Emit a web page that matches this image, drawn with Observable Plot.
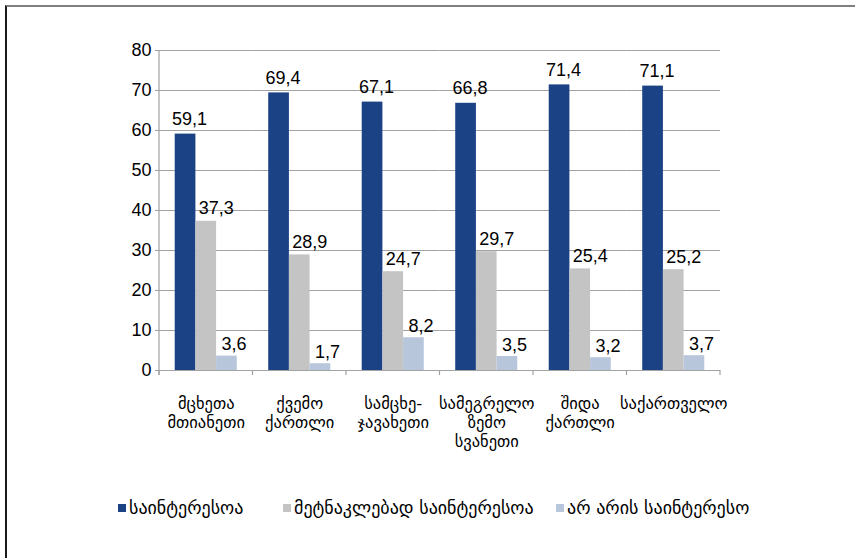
<!DOCTYPE html>
<html>
<head>
<meta charset="utf-8">
<script src="https://cdn.jsdelivr.net/npm/d3@7"></script>
<script src="https://cdn.jsdelivr.net/npm/@observablehq/plot@0.6"></script>
<style>
  html, body { margin: 0; padding: 0; background: #fff; }
  #wrap { position: relative; width: 855px; height: 558px; overflow: hidden; background: #fff;
          font-family: "Liberation Sans", "DejaVu Sans", Arial, sans-serif; }
  #frame { position: absolute; left: 5px; top: 5px; right: -5px; bottom: -5px;
           border-top: 2px solid #7f7f7f; border-left: 2px solid #1a1a1a; z-index: 2; pointer-events: none; }
  #chart { position: absolute; left: 0; top: 0; }
  .leg { position: absolute; top: 497px; display: flex; align-items: center; font-size: 18px; color: #000;
         font-family: "DejaVu Sans", sans-serif; white-space: nowrap; }
  .sw { width: 8px; height: 8px; margin-right: 3px; display: inline-block; }
</style>
</head>
<body>
<div id="wrap">
  <div id="frame"></div>
  <div id="chart"></div>
  <div id="legend"></div>
</div>
<script>
const categories = ["მცხეთა\nმთიანეთი", "ქვემო\nქართლი", "სამცხე-\nჯავახეთი", "სამეგრელო\nზემო\nსვანეთი", "შიდა\nქართლი", "საქართველო"];
const series = ["საინტერესოა", "მეტნაკლებად საინტერესოა", "არ არის საინტერესო"];
const interesting = [59.1, 69.4, 67.1, 66.8, 71.4, 71.1];
const somewhat = [37.3, 28.9, 24.7, 29.7, 25.4, 25.2];
const notInteresting = [3.6, 1.7, 8.2, 3.5, 3.2, 3.7];
const yTicks = [0, 10, 20, 30, 40, 50, 60, 70, 80];
const colors = ["#1b4285", "#c4c4c4", "#b8c6dc"];

const valuesBySeries = [interesting, somewhat, notInteresting];
const data = [];
categories.forEach((c, i) => {
  series.forEach((s, j) => data.push({cat: c, series: s, value: valuesBySeries[j][i]}));
});
const fmt = v => v.toFixed(1).replace(".", ",");
const labelDx = [4, 10, 7];
const labelDy = [-9, -7, -6];

const plot = Plot.plot({
  width: 855,
  height: 470,
  marginLeft: 159,
  marginRight: 135,
  marginTop: 50,
  marginBottom: 100,
  style: {background: "transparent", fontFamily: "'Liberation Sans', 'DejaVu Sans', Arial, sans-serif", color: "#000"},
  fx: {domain: categories, padding: 0, label: null, round: false},
  x: {domain: series, axis: null, paddingInner: 0, paddingOuter: 0.76, round: false},
  y: {domain: [0, 80], label: null},
  color: {domain: series, range: colors},
  marks: [
    Plot.gridY(yTicks, {stroke: "#a2a2a2", strokeOpacity: 1, strokeWidth: 1.2}),
    Plot.axisY(yTicks, {tickSize: 4, tickPadding: 4, fontSize: 18, label: null, stroke: "#a2a2a2", fill: "#000", tickFormat: d => String(d)}),
    Plot.barY(data, {fx: "cat", x: "series", y: "value", fill: "series"}),
    Plot.ruleY([0], {stroke: "#a2a2a2", strokeWidth: 1.2}),
    ...series.map((s, j) => Plot.text(data.filter(d => d.series === s), {
      fx: "cat", x: "series", y: "value", text: d => fmt(d.value),
      lineAnchor: "bottom", dy: labelDy[j], dx: labelDx[j], fontSize: 18, fill: "#000"
    })),
    Plot.axisFx({anchor: "bottom", tickSize: 0, tickPadding: 25, fontSize: 16.5, lineHeight: 1.15, label: null,
      fontFamily: "'DejaVu Sans', sans-serif", fill: "#000"})
  ]
});
document.getElementById("chart").appendChild(plot);

// axis line and band-boundary ticks, from Plot's own scales
const fx = plot.scale("fx");
const ys = plot.scale("y");
const svg = d3.select(plot);
const y0 = ys.apply(0), yTop = ys.apply(80);
const bounds = categories.map(c => fx.apply(c));
bounds.push(fx.apply(categories[categories.length - 1]) + fx.bandwidth);
const g = svg.append("g").attr("stroke", "#a2a2a2").attr("stroke-width", 1.2);
g.append("line").attr("x1", bounds[0]).attr("x2", bounds[0]).attr("y1", yTop).attr("y2", y0 + 5);
bounds.forEach(b => g.append("line").attr("x1", b).attr("x2", b).attr("y1", y0).attr("y2", y0 + 5));

// legend
const legLefts = [118, 283, 556];
const legend = document.getElementById("legend");
series.forEach((s, j) => {
  const item = document.createElement("div");
  item.className = "leg";
  item.style.left = legLefts[j] + "px";
  item.innerHTML = `<span class="sw" style="background:${colors[j]}"></span><span>${s}</span>`;
  legend.appendChild(item);
});
</script>
</body>
</html>
